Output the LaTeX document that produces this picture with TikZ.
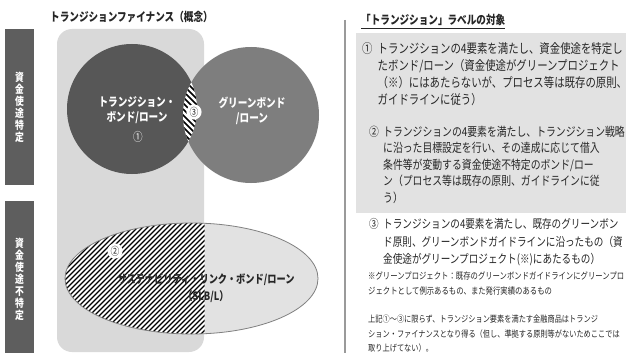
\documentclass[tikz,border=0pt]{standalone}
\usepackage{fontspec}
\setmainfont{Noto Sans CJK JP}[FakeStretch=0.8]
\definecolor{darkc}{HTML}{575757}
\definecolor{midc}{HTML}{7E7E7E}
\definecolor{barc}{HTML}{5E5E5E}
\definecolor{rectc}{HTML}{D9D9D9}
\definecolor{boxc}{HTML}{E2E2E2}
\definecolor{txt}{HTML}{262626}
\definecolor{sepc}{HTML}{9A9A9A}
\begin{document}
\begin{tikzpicture}[x=1pt,y=-1pt,
  fs/.style={font=\fontsize{#1}{#1}\selectfont},
  barbox/.style={fill=barc, minimum width=29pt, minimum height=#1, inner sep=0pt},
  vtext/.style={align=center, text=white, inner sep=0pt, font=\bfseries\fontsize{11}{12}\selectfont},
  hatchline/.style={black, line width=1.5pt},
  item/.style={anchor=north west, align=left, inner sep=0pt, text=txt},
  numdisk/.style={circle, fill=white, inner sep=0.6pt, text=txt, font=\fontsize{11}{11}\selectfont}
]
\useasboundingbox (0,0) rectangle (628,353);
\fill[white] (0,0) rectangle (628,353);

% title
\node[anchor=west, inner sep=0pt, text=txt, font=\bfseries\fontsize{12}{12}\selectfont] (title) at (50,17) {トランジションファイナンス（概念）};

% left bars
\node[barbox=156pt] (bar1) at (19.5,107) {};
\node[vtext] (bar1t) at (bar1.center) {資\\金\\使\\途\\特\\定};
\node[barbox=152pt] (bar2) at (19.5,277) {};
\node[vtext] (bar2t) at (19.5,279) {資\\金\\使\\途\\不\\特\\定};

% light frame
\node[fill=rectc, rounded corners=15pt, minimum width=147pt, minimum height=323pt, inner sep=0pt] (frame) at (130.5,190.5) {};

% circles
\node[circle, fill=darkc, minimum size=130pt, inner sep=0pt] (tc) at (132,109) {};
\node[circle, fill=midc, minimum size=136pt, inner sep=0pt] (gc) at (251,115) {};

% lens hatch
\begin{scope}
  \clip (132,109) circle[radius=65];
  \fill[white] (251,115) circle[radius=68];
  \clip (251,115) circle[radius=68];
  \foreach \i in {30,36,...,210} \draw[hatchline] (\i,40) -- ++(130,130);
\end{scope}

% ellipse
\fill[boxc] (191.5,278.5) ellipse[x radius=126.5, y radius=55.5];
\begin{scope}
  \clip (191.5,278.5) ellipse[x radius=126.5, y radius=55.5];
  \clip (0,200) rectangle (204.5,353);
  \fill[white] (0,200) rectangle (204.5,353);
  \foreach \i in {-80,-75,...,210} \draw[black, line width=1.2pt] (\i,345) -- ++(130,-130);
\end{scope}
\draw[gray, line width=0.8pt] (191.5,278.5) ellipse[x radius=126.5, y radius=55.5];

% circle labels
\node[align=center, text=white, inner sep=0pt, font=\bfseries\fontsize{12}{15}\selectfont] (tcl) at (137,110.5) {トランジション・\\ボンド/ローン};
\node[text=white, inner sep=0pt, fs=12] (tcn) at (138,137) {①};
\node[align=center, text=white, inner sep=0pt, font=\bfseries\fontsize{12}{15}\selectfont] (gcl) at (252,110.5) {グリーンボンド\\/ローン};
\node[numdisk] (n3) at (194,112) {③};
\node[numdisk] (n2) at (115,251) {②};
\node[align=center, text=txt, inner sep=0pt, font=\bfseries\fontsize{11.5}{17}\selectfont] (slb) at (206,288.5) {サステナビリティ・リンク・ボンド/ローン\\（SLB/L）};

% separator
\coordinate (sepT) at (345,20);
\coordinate (sepB) at (345,353);
\draw[sepc, line width=1.5pt] (sepT) -- (sepB);

% heading
\node[anchor=west, inner sep=0pt, text=txt, font=\bfseries\fontsize{12}{12}\selectfont] (head) at (361,20) {「トランジション」ラベルの対象};
\draw[txt, line width=0.8pt] ([yshift=-2pt]head.south west) -- ([yshift=-2pt]head.south east);

% gray box
\node[fill=boxc, minimum width=270pt, minimum height=180pt, inner sep=0pt] (gbox) at (491,123) {};

% item 1
\node[item, font=\fontsize{13}{17}\selectfont] (m1) at (362,42.5) {①};
\node[item, font=\fontsize{13}{17}\selectfont] (t1) at (377.5,42.5) {トランジションの4要素を満たし、資金使途を特定し\\たボンド/ローン（資金使途がグリーンプロジェクト\\（※）にはあたらないが、プロセス等は既存の原則、\\ガイドラインに従う）};

% item 2
\node[item, font=\fontsize{12.3}{16.5}\selectfont] (m2) at (369,125.5) {②};
\node[item, font=\fontsize{12.3}{16.5}\selectfont] (t2) at (383,125.5) {トランジションの4要素を満たし、トランジション戦略\\に沿った目標設定を行い、その達成に応じて借入\\条件等が変動する資金使途不特定のボンド/ロー\\ン（プロセス等は既存の原則、ガイドラインに従\\う）};

% item 3
\node[item, font=\fontsize{12}{17.5}\selectfont] (m3) at (369,218.5) {③};
\node[item, font=\fontsize{12}{17.5}\selectfont] (t3) at (383,218.5) {トランジションの4要素を満たし、既存のグリーンボン\\ド原則、グリーンボンドガイドラインに沿ったもの（資\\金使途がグリーンプロジェクト(※)にあたるもの）};

% notes
\node[item, font=\fontsize{9.2}{15}\selectfont] (note) at (368,272) {※グリーンプロジェクト：既存のグリーンボンドガイドラインにグリーンプロ\\ジェクトとして例示あるもの、また発行実績のあるもの};
\node[item, font=\fontsize{9}{14.5}\selectfont] (rem) at (368,315) {上記①～③に限らず、トランジション要素を満たす金融商品はトランジ\\ション・ファイナンスとなり得る（但し、準拠する原則等がないためここでは\\取り上げてない）。};
\end{tikzpicture}
\end{document}
